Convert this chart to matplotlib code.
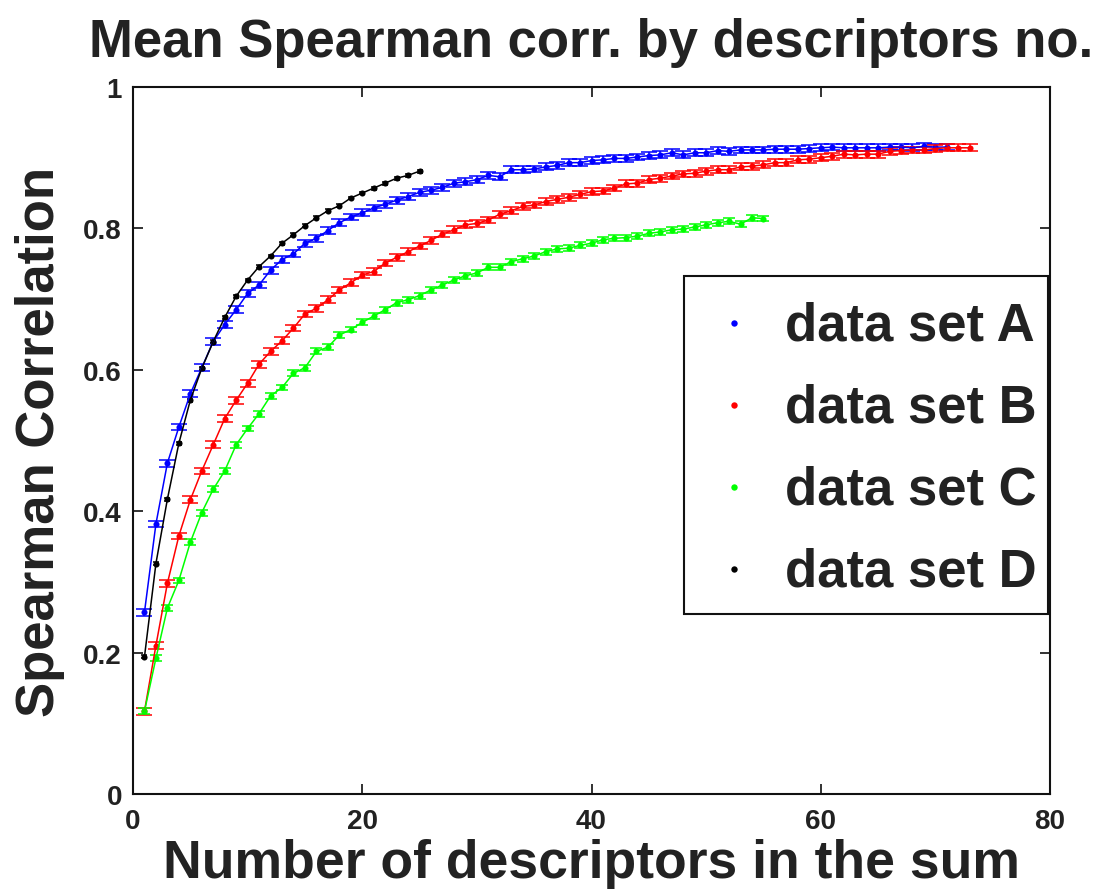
import matplotlib
matplotlib.use("Agg")
import matplotlib.pyplot as plt
from matplotlib.lines import Line2D

plt.rcParams["font.family"] = ["Liberation Sans", "DejaVu Sans"]
plt.rcParams["font.weight"] = "bold"

# ---- data ----
labels = ["data set A", "data set B", "data set C", "data set D"]
colors = ["#0000ff", "#ff0000", "#00ff00", "#000000"]

A = [0.257, 0.382, 0.468, 0.519, 0.566, 0.603, 0.640, 0.664, 0.685, 0.708,
     0.720, 0.741, 0.756, 0.764, 0.779, 0.786, 0.797, 0.808, 0.816, 0.822,
     0.829, 0.834, 0.840, 0.845, 0.851, 0.854, 0.858, 0.864, 0.866, 0.869,
     0.875, 0.873, 0.883, 0.883, 0.884, 0.887, 0.889, 0.893, 0.893, 0.896,
     0.897, 0.899, 0.899, 0.901, 0.903, 0.904, 0.907, 0.904, 0.907, 0.907,
     0.910, 0.909, 0.911, 0.911, 0.911, 0.912, 0.912, 0.912, 0.913, 0.914,
     0.915, 0.914, 0.914, 0.914, 0.914, 0.915, 0.915, 0.914, 0.916, 0.915,
     0.915]
B = [0.117, 0.210, 0.298, 0.365, 0.416, 0.457, 0.494, 0.531, 0.557, 0.581,
     0.608, 0.626, 0.641, 0.659, 0.679, 0.687, 0.699, 0.713, 0.723, 0.734,
     0.739, 0.751, 0.759, 0.767, 0.775, 0.783, 0.792, 0.798, 0.805, 0.807,
     0.812, 0.820, 0.825, 0.831, 0.833, 0.838, 0.841, 0.844, 0.848, 0.852,
     0.853, 0.857, 0.863, 0.864, 0.869, 0.871, 0.874, 0.877, 0.878, 0.881,
     0.883, 0.883, 0.887, 0.888, 0.890, 0.893, 0.893, 0.897, 0.898, 0.900,
     0.902, 0.905, 0.904, 0.905, 0.905, 0.909, 0.910, 0.911, 0.911, 0.913,
     0.914, 0.914, 0.914]
C = [0.117, 0.192, 0.263, 0.302, 0.356, 0.398, 0.431, 0.457, 0.494, 0.517,
     0.538, 0.563, 0.575, 0.595, 0.603, 0.626, 0.632, 0.649, 0.657, 0.667,
     0.676, 0.685, 0.695, 0.699, 0.705, 0.713, 0.720, 0.727, 0.733, 0.737,
     0.745, 0.745, 0.753, 0.757, 0.761, 0.767, 0.771, 0.772, 0.776, 0.779,
     0.784, 0.786, 0.787, 0.789, 0.793, 0.795, 0.798, 0.799, 0.802, 0.805,
     0.808, 0.810, 0.806, 0.815, 0.814]
D = [0.194, 0.326, 0.417, 0.496, 0.557, 0.602, 0.640, 0.674, 0.704, 0.727,
     0.746, 0.761, 0.779, 0.791, 0.804, 0.815, 0.825, 0.832, 0.843, 0.850,
     0.857, 0.864, 0.871, 0.875, 0.881]
series = [A, B, C, D]
errs = [0.0048, 0.0048, 0.0042, 0.002]   # half-length of error bars

xticks = [0, 20, 40, 60, 80]
yticks = [0, 0.2, 0.4, 0.6, 0.8, 1]
ytick_labels = ["0", "0.2", "0.4", "0.6", "0.8", "1"]

# ---- figure ----
W, H = 1110, 895
fig = plt.figure(figsize=(W / 100, H / 100), dpi=100)
L, R, T, Bt = 133, 1050, 88, 795
ax = fig.add_axes([L / W, 1 - Bt / H, (R - L) / W, (Bt - T) / H])

TXT = "#222222"
px = 0.72  # points per pixel
for ys, e, col in zip(series, errs, colors):
    xs = list(range(1, len(ys) + 1))
    cap_halfwidth_px = (xs[-1] - xs[0]) / 100 * (R - L) / 80
    ax.errorbar(xs, ys, yerr=e, fmt="-", color=col, lw=1.1, elinewidth=1.1,
                capsize=cap_halfwidth_px * px, capthick=1.1)
    ax.plot(xs, ys, "o", color=col, markersize=4.4, markeredgewidth=0)

ax.set_xlim(0, 80)
ax.set_ylim(0, 1)
ax.set_xticks(xticks)
ax.set_yticks(yticks)
ax.set_yticklabels(ytick_labels)
ax.tick_params(direction="in", length=7, width=1.3, top=True, right=True,
               labelsize=20, colors=TXT)
ax.tick_params(axis="x", pad=10)
ax.tick_params(axis="y", pad=8)
for lab in ax.get_xticklabels() + ax.get_yticklabels():
    lab.set_fontweight("bold")
for s in ax.spines.values():
    s.set_linewidth(1.5)
    s.set_color("#111111")

ax.set_title("Mean Spearman corr. by descriptors no.", fontsize=38,
             fontweight="bold", color=TXT, pad=22)
ax.set_xlabel("Number of descriptors in the sum", fontsize=38.5,
              fontweight="bold", color=TXT, labelpad=3)
ax.set_ylabel("Spearman Correlation", fontsize=38, fontweight="bold",
              color=TXT, labelpad=13)

handles = [Line2D([], [], ls="none", marker="o", markersize=4.6,
                  markeredgewidth=0, color=c) for c in colors]
leg = ax.legend(handles, labels, loc="upper right",
                bbox_to_anchor=(0.9978, 0.7327), fontsize=38, frameon=True,
                fancybox=False, framealpha=1, edgecolor="#111111",
                borderpad=0.22, labelspacing=0.25, handlelength=1.45,
                handleheight=1.63, handletextpad=0.23, borderaxespad=0)
leg.get_frame().set_linewidth(1.5)
for t in leg.get_texts():
    t.set_color(TXT)
    t.set_fontweight("bold")
# centre the legend dots on the text rows
for h in leg.legend_handles:
    h.set_ydata([v - 7.0 for v in h.get_ydata()])

fig.savefig("out.png", dpi=100)
